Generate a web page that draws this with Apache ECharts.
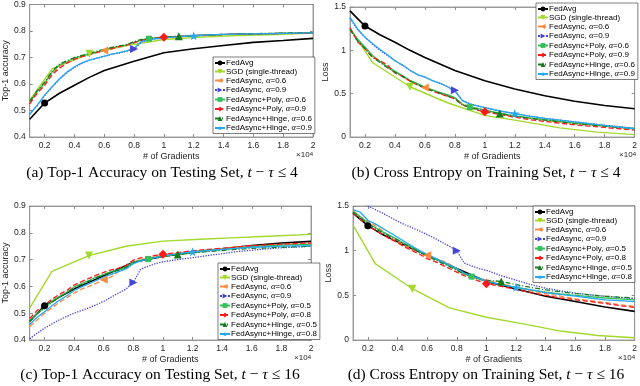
<!DOCTYPE html>
<html>
<head>
<meta charset="utf-8">
<script src="https://cdn.jsdelivr.net/npm/echarts@6/dist/echarts.min.js"></script>
<style>
  html, body { margin: 0; padding: 0; background: #fff; }
  #main { width: 640px; height: 386px; }
</style>
</head>
<body>
<div id="main"></div>
<script>
// x in units of 10^4 gradients
var xTicks = [0.2, 0.4, 0.6, 0.8, 1, 1.2, 1.4, 1.6, 1.8, 2];
var xFine = [0.1, 0.15, 0.2, 0.25, 0.3, 0.35, 0.4, 0.45, 0.5, 0.55, 0.6, 0.65, 0.7, 0.75, 0.8,
  0.85, 0.9, 0.95, 1.0, 1.1, 1.2, 1.3, 1.4, 1.5, 1.6, 1.7, 1.8, 1.9, 2.0];
var xAvg = [0.1, 0.2, 0.3, 0.4, 0.5, 0.6, 0.8, 1, 1.2, 1.4, 1.6, 1.8, 2];
var xSgd = [0.1, 0.25, 0.5, 0.75, 1, 1.25, 1.5, 1.75, 2];

var namesTop = ['FedAvg', 'SGD (single-thread)', 'FedAsync, α=0.6', 'FedAsync, α=0.9',
  'FedAsync+Poly, α=0.6', 'FedAsync+Poly, α=0.9', 'FedAsync+Hinge, α=0.6', 'FedAsync+Hinge, α=0.9'];
var namesBottom = ['FedAvg', 'SGD (single-thread)', 'FedAsync, α=0.6', 'FedAsync, α=0.9',
  'FedAsync+Poly, α=0.5', 'FedAsync+Poly, α=0.8', 'FedAsync+Hinge, α=0.5', 'FedAsync+Hinge, α=0.8'];

// (a) top-1 accuracy, t - tau <= 4
var aAvg = [0.467, 0.528, 0.565, 0.595, 0.625, 0.651, 0.686, 0.718, 0.733, 0.745, 0.757, 0.764, 0.772];
var aSgd = [0.538, 0.657, 0.714, 0.745, 0.768, 0.777, 0.783, 0.787, 0.792];
var aAsync6 = [0.528, 0.57, 0.6, 0.64, 0.668, 0.682, 0.695, 0.705, 0.712, 0.718, 0.726, 0.735, 0.74, 0.745, 0.755,
  0.765, 0.77, 0.773, 0.775, 0.778, 0.781, 0.784, 0.786, 0.788, 0.789, 0.79, 0.791, 0.792, 0.793];
var aAsync9 = [0.487, 0.518, 0.556, 0.588, 0.618, 0.642, 0.662, 0.678, 0.69, 0.697, 0.704, 0.712, 0.717, 0.724, 0.732,
  0.758, 0.767, 0.77, 0.774, 0.779, 0.782, 0.785, 0.787, 0.788, 0.789, 0.79, 0.791, 0.792, 0.793];
var aPoly6 = [0.532, 0.572, 0.603, 0.645, 0.672, 0.684, 0.698, 0.706, 0.713, 0.72, 0.728, 0.736, 0.742, 0.747, 0.757,
  0.766, 0.771, 0.774, 0.776, 0.779, 0.782, 0.784, 0.786, 0.788, 0.789, 0.79, 0.791, 0.792, 0.793];
var aPoly9 = [0.525, 0.565, 0.595, 0.635, 0.66, 0.679, 0.693, 0.703, 0.711, 0.719, 0.727, 0.733, 0.741, 0.748, 0.756,
  0.765, 0.77, 0.774, 0.776, 0.78, 0.782, 0.785, 0.787, 0.788, 0.789, 0.79, 0.791, 0.791, 0.792];
var aHinge6 = [0.535, 0.575, 0.607, 0.648, 0.675, 0.688, 0.7, 0.708, 0.716, 0.724, 0.731, 0.738, 0.744, 0.749, 0.76,
  0.768, 0.772, 0.775, 0.777, 0.78, 0.783, 0.785, 0.787, 0.789, 0.79, 0.791, 0.792, 0.793, 0.794];
var aHinge9 = [0.485, 0.52, 0.558, 0.59, 0.62, 0.645, 0.665, 0.68, 0.69, 0.698, 0.705, 0.713, 0.718, 0.725, 0.735,
  0.76, 0.768, 0.771, 0.774, 0.779, 0.782, 0.785, 0.787, 0.788, 0.789, 0.79, 0.791, 0.792, 0.793];

// (b) cross entropy, t - tau <= 4
var bAvg = [1.455, 1.28, 1.18, 1.094, 1.0, 0.918, 0.768, 0.648, 0.554, 0.476, 0.412, 0.363, 0.326];
var bSgd = [1.255, 0.86, 0.58, 0.395, 0.25, 0.18, 0.105, 0.056, 0.027];
var bAsync6 = [1.24, 1.12, 1.03, 0.93, 0.87, 0.8, 0.75, 0.7, 0.65, 0.61, 0.57, 0.54, 0.51, 0.48, 0.45,
  0.38, 0.35, 0.33, 0.31, 0.27, 0.24, 0.215, 0.195, 0.175, 0.155, 0.14, 0.125, 0.11, 0.095];
var bAsync9 = [1.37, 1.24, 1.15, 1.07, 1.0, 0.94, 0.88, 0.83, 0.77, 0.72, 0.69, 0.65, 0.62, 0.58, 0.54,
  0.42, 0.385, 0.36, 0.34, 0.3, 0.27, 0.24, 0.215, 0.195, 0.175, 0.155, 0.135, 0.12, 0.1];
var bPoly6 = [1.25, 1.13, 1.04, 0.94, 0.87, 0.81, 0.76, 0.71, 0.655, 0.615, 0.575, 0.545, 0.515, 0.49, 0.455,
  0.375, 0.345, 0.33, 0.31, 0.275, 0.245, 0.22, 0.2, 0.18, 0.16, 0.145, 0.13, 0.115, 0.1];
var bPoly9 = [1.26, 1.1, 1.02, 0.92, 0.88, 0.83, 0.74, 0.7, 0.645, 0.6, 0.565, 0.53, 0.5, 0.47, 0.44,
  0.37, 0.34, 0.31, 0.29, 0.26, 0.23, 0.2, 0.18, 0.16, 0.14, 0.125, 0.11, 0.095, 0.08];
var bHinge6 = [1.24, 1.11, 1.02, 0.92, 0.86, 0.8, 0.745, 0.7, 0.645, 0.605, 0.565, 0.535, 0.505, 0.475, 0.44,
  0.37, 0.34, 0.32, 0.3, 0.27, 0.24, 0.215, 0.195, 0.175, 0.155, 0.14, 0.125, 0.11, 0.095];
var bHinge9 = [1.38, 1.25, 1.15, 1.08, 1.01, 0.95, 0.88, 0.83, 0.77, 0.72, 0.69, 0.65, 0.62, 0.58, 0.53,
  0.42, 0.38, 0.36, 0.34, 0.3, 0.27, 0.24, 0.215, 0.195, 0.175, 0.155, 0.135, 0.115, 0.095];

// (c) top-1 accuracy, t - tau <= 16
var cAvg = [0.47, 0.528, 0.56, 0.59, 0.615, 0.64, 0.69, 0.712, 0.728, 0.74, 0.752, 0.762, 0.768];
var cSgd = [0.52, 0.656, 0.715, 0.75, 0.769, 0.776, 0.782, 0.788, 0.794];
var cAsync6 = [0.45, 0.475, 0.5, 0.52, 0.54, 0.558, 0.575, 0.59, 0.6, 0.612, 0.625, 0.635, 0.655, 0.67, 0.69,
  0.7, 0.705, 0.711, 0.716, 0.723, 0.73, 0.736, 0.741, 0.746, 0.75, 0.753, 0.756, 0.757, 0.758];
var cAsync9 = [0.405, 0.425, 0.444, 0.46, 0.475, 0.488, 0.5, 0.51, 0.52, 0.532, 0.544, 0.56, 0.575, 0.59, 0.615,
  0.665, 0.675, 0.685, 0.692, 0.7, 0.707, 0.715, 0.722, 0.73, 0.735, 0.74, 0.744, 0.747, 0.75];
var cPoly5 = [0.47, 0.5, 0.52, 0.545, 0.562, 0.578, 0.598, 0.61, 0.622, 0.635, 0.645, 0.655, 0.662, 0.672, 0.69,
  0.698, 0.702, 0.708, 0.712, 0.72, 0.727, 0.733, 0.738, 0.743, 0.748, 0.751, 0.754, 0.756, 0.758];
var cPoly8 = [0.48, 0.51, 0.53, 0.552, 0.57, 0.585, 0.605, 0.618, 0.63, 0.642, 0.652, 0.662, 0.668, 0.678, 0.698,
  0.706, 0.711, 0.716, 0.72, 0.726, 0.733, 0.738, 0.742, 0.747, 0.752, 0.755, 0.758, 0.76, 0.762];
var cHinge5 = [0.468, 0.498, 0.518, 0.54, 0.56, 0.575, 0.595, 0.607, 0.62, 0.632, 0.643, 0.652, 0.66, 0.67, 0.688,
  0.697, 0.702, 0.707, 0.712, 0.719, 0.725, 0.73, 0.734, 0.738, 0.742, 0.744, 0.746, 0.748, 0.75];
var cHinge8 = [0.458, 0.485, 0.505, 0.528, 0.548, 0.565, 0.585, 0.598, 0.61, 0.622, 0.635, 0.645, 0.655, 0.665, 0.685,
  0.695, 0.701, 0.708, 0.713, 0.722, 0.729, 0.734, 0.738, 0.742, 0.746, 0.748, 0.75, 0.751, 0.752];

// (d) cross entropy, t - tau <= 16
var dAvg = [1.42, 1.28, 1.18, 1.1, 1.02, 0.95, 0.8, 0.655, 0.57, 0.49, 0.43, 0.37, 0.32];
var dSgd = [1.286, 0.855, 0.574, 0.36, 0.255, 0.18, 0.1, 0.05, 0.026];
var dAsync6 = [1.45, 1.38, 1.33, 1.28, 1.22, 1.15, 1.1, 1.06, 1.02, 0.99, 0.95, 0.92, 0.89, 0.85, 0.8,
  0.74, 0.72, 0.69, 0.67, 0.63, 0.59, 0.55, 0.52, 0.49, 0.46, 0.44, 0.42, 0.395, 0.375];
var dAsync9 = [1.62, 1.56, 1.5, 1.46, 1.42, 1.375, 1.33, 1.29, 1.256, 1.22, 1.18, 1.14, 1.095, 1.05, 1.0,
  0.86, 0.83, 0.8, 0.78, 0.72, 0.67, 0.62, 0.58, 0.55, 0.525, 0.505, 0.49, 0.475, 0.46];
var dPoly5 = [1.44, 1.38, 1.31, 1.26, 1.21, 1.17, 1.125, 1.08, 1.04, 0.99, 0.945, 0.91, 0.87, 0.83, 0.79,
  0.74, 0.71, 0.68, 0.66, 0.62, 0.59, 0.56, 0.535, 0.515, 0.5, 0.485, 0.47, 0.46, 0.45];
var dPoly8 = [1.42, 1.35, 1.28, 1.23, 1.18, 1.13, 1.09, 1.04, 1.0, 0.96, 0.91, 0.88, 0.84, 0.8, 0.76,
  0.72, 0.69, 0.66, 0.63, 0.6, 0.565, 0.53, 0.5, 0.47, 0.45, 0.43, 0.41, 0.385, 0.365];
var dHinge5 = [1.43, 1.37, 1.3, 1.25, 1.2, 1.16, 1.12, 1.07, 1.03, 0.98, 0.94, 0.9, 0.86, 0.82, 0.78,
  0.74, 0.71, 0.69, 0.67, 0.655, 0.62, 0.59, 0.56, 0.54, 0.52, 0.505, 0.49, 0.48, 0.47];
var dHinge8 = [1.46, 1.43, 1.34, 1.3, 1.25, 1.2, 1.15, 1.1, 1.05, 1.0, 0.96, 0.92, 0.88, 0.84, 0.8,
  0.75, 0.72, 0.69, 0.66, 0.62, 0.59, 0.56, 0.53, 0.51, 0.49, 0.47, 0.45, 0.44, 0.43];

var STAR = 'path://M0,-10L2.35,-3.24L9.51,-3.09L3.8,1.24L5.88,8.09L0,4L-5.88,8.09L-3.8,1.24L-9.51,-3.09L-2.35,-3.24Z';
// one style per legend slot; mark = index of the single marker drawn on the line
var styles = [
  {color: '#000000', symbol: 'circle', rotate: 0, size: 7, type: 'solid', width: 1.6, xs: xAvg, mark: 1},
  {color: '#a2d92c', symbol: 'triangle', rotate: 180, size: 8, type: 'solid', width: 1.4, xs: xSgd, mark: 2},
  {color: '#ff8a3d', symbol: 'triangle', rotate: 90, size: 8, type: 'dashed', width: 1.3, xs: xFine, mark: 10},
  {color: '#4444d8', symbol: 'triangle', rotate: -90, size: 8, type: 'dotted', width: 1.3, xs: xFine, mark: 14},
  {color: '#33c05a', symbol: 'rect', rotate: 0, size: 6, type: 'solid', width: 1.3, xs: xFine, mark: 16},
  {color: '#ff1a1a', symbol: 'diamond', rotate: 0, size: 9, type: 'dashed', width: 1.3, xs: xFine, mark: 18},
  {color: '#177a1e', symbol: 'triangle', rotate: 0, size: 8, type: [5, 2, 1, 2], width: 1.3, xs: xFine, mark: 19},
  {color: '#25a8f0', symbol: STAR, rotate: 0, size: 9, type: 'solid', width: 1.3, xs: xFine, mark: 20}
];

var panels = [
  {grid: {left: 25, top: 4, width: 288, height: 133}, ymin: 0.4, ymax: 0.9, yint: 0.1, yname: 'Top-1 accuracy',
    legend: {left: 213, top: 57}, names: namesTop,
    ys: [aAvg, aSgd, aAsync6, aAsync9, aPoly6, aPoly9, aHinge6, aHinge9]},
  {grid: {left: 350, top: 7, width: 286, height: 130}, ymin: 0, ymax: 1.5, yint: 0.5, yname: 'Loss',
    legend: {left: 536, top: 3}, names: namesTop,
    ys: [bAvg, bSgd, bAsync6, bAsync9, bPoly6, bPoly9, bHinge6, bHinge9]},
  {grid: {left: 25, top: 206, width: 286, height: 134}, ymin: 0.4, ymax: 0.9, yint: 0.1, yname: 'Top-1 accuracy',
    legend: {left: 218, top: 263}, names: namesBottom,
    ys: [cAvg, cSgd, cAsync6, cAsync9, cPoly5, cPoly8, cHinge5, cHinge8]},
  {grid: {left: 353, top: 206, width: 282, height: 134}, ymin: 0, ymax: 1.5, yint: 0.5, yname: 'Loss',
    legend: {left: 533, top: 206}, names: namesBottom,
    ys: [dAvg, dSgd, dAsync6, dAsync9, dPoly5, dPoly8, dHinge5, dHinge8]}
];

var captions = [
  {x: 162, y: 173, tag: '(a) Top-1 Accuracy on Testing Set, ', n: '4'},
  {x: 486, y: 173, tag: '(b) Cross Entropy on Training Set, ', n: '4'},
  {x: 160, y: 375, tag: '(c) Top-1 Accuracy on Testing Set, ', n: '16'},
  {x: 486, y: 375, tag: '(d) Cross Entropy on Training Set, ', n: '16'}
];

var AXC = '#262626';
var SANS = '"Liberation Sans", Arial, sans-serif';
var SERIF = '"Liberation Serif", "Times New Roman", serif';
var grids = [], xAxes = [], yAxes = [], legends = [], series = [], graphics = [];

panels.forEach(function(p, gi) {
  grids.push(Object.assign({show: true, borderColor: '#8c8c8c', borderWidth: 0.8}, p.grid));

  [false, true].forEach(function(mirror) {
    xAxes.push({
      gridIndex: gi, type: 'value', min: 0.1, max: 2,
      position: mirror ? 'top' : 'bottom',
      axisLine: {show: true, onZero: false, lineStyle: {color: '#8c8c8c', width: 0.8}},
      axisTick: {show: true, inside: true, length: 3, customValues: xTicks, lineStyle: {color: '#8c8c8c'}},
      axisLabel: {show: !mirror, customValues: xTicks, fontSize: 8.5, color: AXC, margin: 4, fontFamily: SANS},
      splitLine: {show: false},
      name: mirror ? '' : '# of Gradients', nameLocation: 'middle', nameGap: 15,
      nameTextStyle: {fontSize: 9, color: AXC, fontFamily: SANS}
    });
    yAxes.push({
      gridIndex: gi, type: 'value', min: p.ymin, max: p.ymax, interval: p.yint,
      position: mirror ? 'right' : 'left',
      axisLine: {show: true, onZero: false, lineStyle: {color: '#8c8c8c', width: 0.8}},
      axisTick: {show: true, inside: true, length: 3, lineStyle: {color: '#8c8c8c'}},
      axisLabel: {show: !mirror, fontSize: 8.5, color: AXC, margin: 4, fontFamily: SANS},
      splitLine: {show: false},
      name: mirror ? '' : p.yname, nameLocation: 'middle', nameGap: p.ymin === 0 ? 16 : 17,
      nameTextStyle: {fontSize: 9, color: AXC, fontFamily: SANS}
    });
  });

  legends.push({
    orient: 'vertical', left: p.legend.left, top: p.legend.top,
    data: p.names, padding: [2, 3, 1, 1], itemWidth: 10, itemHeight: 6, itemGap: 0.5,
    backgroundColor: '#fff', borderColor: '#262626', borderWidth: 0.6, borderRadius: 0,
    selectedMode: false,
    textStyle: {fontSize: 8, lineHeight: 8, color: '#000', fontFamily: SANS, padding: [0, 0, 0, -4],
      rich: {i: {fontSize: 8.5, lineHeight: 8, fontStyle: 'italic', fontFamily: SERIF}}},
    formatter: function(name) { return name.replace('α', '{i|α}'); }
  });

  p.ys.forEach(function(ys, si) {
    var st = styles[si];
    series.push({
      name: p.names[si], type: 'line', xAxisIndex: gi * 2, yAxisIndex: gi * 2,
      data: st.xs.map(function(x, i) { return [x, ys[i]]; }),
      symbol: st.symbol, symbolRotate: st.rotate, showAllSymbol: true,
      symbolSize: (function(m, s) {
        return function(v, prm) { return prm.dataIndex === m ? s : 0; };
      })(st.mark, st.size),
      itemStyle: {color: st.color},
      lineStyle: {color: st.color, width: st.width, type: st.type},
      clip: true, silent: true
    });
  });

  var g = p.grid;
  graphics.push({
    type: 'text', right: 640 - (g.left + g.width), top: g.top + g.height + 14,
    style: {text: '×10{s|4}', fontSize: 8, fill: AXC, fontFamily: SANS,
      rich: {s: {fontSize: 6, verticalAlign: 'top', fill: AXC, fontFamily: SANS}}}
  });
});

captions.forEach(function(c) {
  graphics.push({
    type: 'text', x: c.x, y: c.y,
    style: {
      text: c.tag + '{i|t} − {i|τ} ≤ ' + c.n,
      fontSize: 15.5, fontFamily: SERIF, fill: '#000',
      align: 'center', verticalAlign: 'middle',
      rich: {i: {fontSize: 15.5, fontStyle: 'italic', fontFamily: SERIF}}
    }
  });
});

var chart = echarts.init(document.getElementById('main'));
chart.setOption({
  animation: false,
  backgroundColor: '#fff',
  grid: grids,
  xAxis: xAxes,
  yAxis: yAxes,
  legend: legends,
  series: series,
  graphic: graphics
});
</script>
</body>
</html>
